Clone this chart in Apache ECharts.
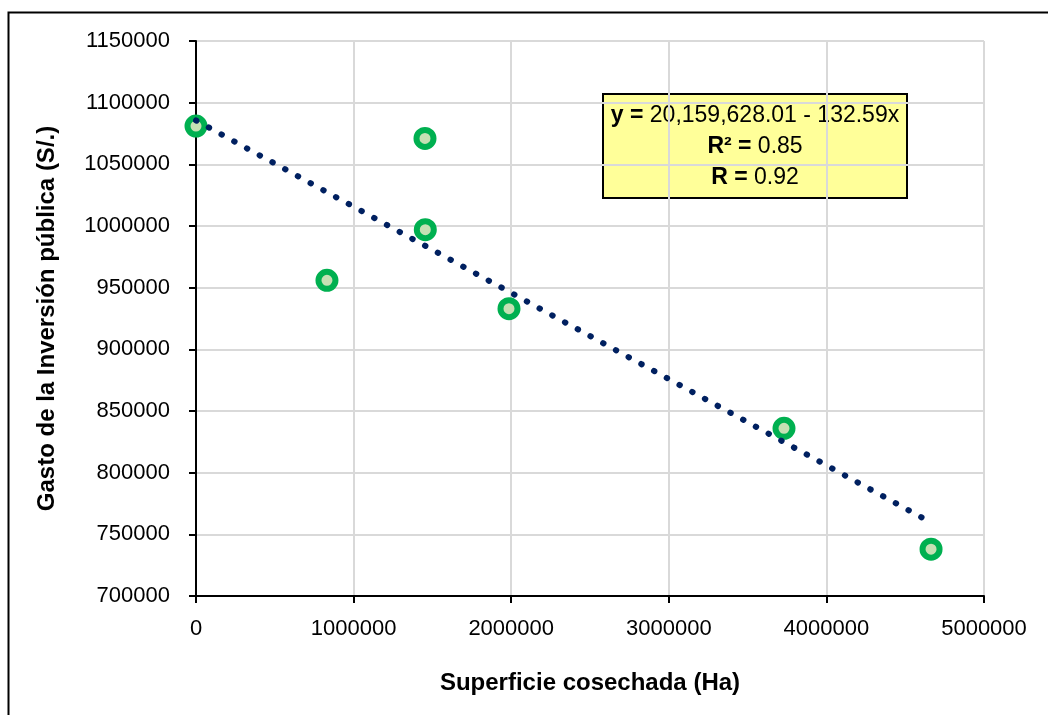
<!DOCTYPE html>
<html>
<head>
<meta charset="utf-8">
<script src="https://cdn.jsdelivr.net/npm/echarts@6/dist/echarts.min.js"></script>
<style>
  html, body { margin: 0; padding: 0; background: #fff; }
  #main { width: 1048px; height: 715px; }
</style>
</head>
<body>
<div id="main"></div>
<script>
// datos
var superficie = [0, 831000, 1453000, 1455000, 1986000, 3731000, 4664000];
var gasto = [1081000, 956000, 1071000, 997000, 933000, 836000, 738000];
var xTicks = [0, 5000000, 1000000];
var yTicks = [700000, 1150000, 50000];
var ecuacion = ['y = ', '20,159,628.01 - 132.59x'];
var r2 = ['R² = ', '0.85'];
var rr = ['R = ', '0.92'];

var fontN = '"Liberation Sans", Arial, sans-serif';

// recta de minimos cuadrados (como la linea de tendencia de Excel)
function tendencia(xs, ys) {
    var n = xs.length, mx = 0, my = 0;
    for (var i = 0; i < n; i++) { mx += xs[i]; my += ys[i]; }
    mx /= n; my /= n;
    var sxy = 0, sxx = 0;
    for (var j = 0; j < n; j++) {
        sxy += (xs[j] - mx) * (ys[j] - my);
        sxx += (xs[j] - mx) * (xs[j] - mx);
    }
    var b = sxy / sxx, a = my - b * mx;
    var x0 = Math.min.apply(null, xs), x1 = Math.max.apply(null, xs);
    return [[x0, a + b * x0], [x1, a + b * x1]];
}

var myChart = echarts.init(document.getElementById('main'));

var puntos = superficie.map(function (v, i) { return [v, gasto[i]]; });
var sinComas = function (v) { return String(v); };

myChart.setOption({
    animation: false,
    grid: { left: 196, right: 64, top: 41, bottom: 119 },
    xAxis: {
        type: 'value',
        min: xTicks[0], max: xTicks[1], interval: xTicks[2],
        name: 'Superficie cosechada (Ha)',
        nameLocation: 'middle',
        nameGap: 75,
        nameTextStyle: { fontFamily: fontN, fontWeight: 'bold', fontSize: 24, color: '#000' },
        axisLine: { lineStyle: { color: '#000', width: 2 } },
        axisTick: { show: true, length: 7, lineStyle: { color: '#000', width: 2 } },
        axisLabel: { margin: 22, fontFamily: fontN, fontSize: 22, color: '#000', formatter: sinComas },
        splitLine: { show: true, lineStyle: { color: '#d9d9d9', width: 2 } }
    },
    yAxis: {
        type: 'value',
        min: yTicks[0], max: yTicks[1], interval: yTicks[2],
        name: 'Gasto de la Inversión pública (S/.)',
        nameLocation: 'middle',
        nameGap: 137,
        nameTextStyle: { fontFamily: fontN, fontWeight: 'bold', fontSize: 24, color: '#000' },
        axisLine: { show: true, lineStyle: { color: '#000', width: 2 } },
        axisTick: { show: true, length: 7, lineStyle: { color: '#000', width: 2 } },
        axisLabel: { margin: 26, fontFamily: fontN, fontSize: 22, color: '#000', formatter: sinComas },
        splitLine: { show: true, lineStyle: { color: '#d9d9d9', width: 2 } }
    },
    series: [
        {
            type: 'scatter',
            data: puntos,
            symbol: 'circle',
            symbolSize: 17,
            itemStyle: { color: '#c6e0b4', borderColor: '#00b050', borderWidth: 6, opacity: 1 },
            z: 2
        },
        {
            type: 'line',
            data: tendencia(superficie, gasto),
            showSymbol: false,
            symbol: 'none',
            lineStyle: { color: '#002060', width: 6, type: [0.5, 14], cap: 'round' },
            z: 3
        }
    ],
    graphic: [
        {
            type: 'rect',
            left: 6, top: 10,
            shape: { width: 1100, height: 800 },
            style: { fill: 'none', stroke: '#000', lineWidth: 2 },
            silent: true
        },
        {
            type: 'group',
            left: 602, top: 93,
            children: [
                {
                    type: 'rect',
                    shape: { x: 0, y: 0, width: 304, height: 104 },
                    style: { fill: '#ffff99', stroke: '#000', lineWidth: 2 }
                },
                {
                    type: 'text',
                    x: 152, y: 53,
                    style: {
                        text: '{b|' + ecuacion[0] + '}{n|' + ecuacion[1] + '}\n' +
                              '{b|' + r2[0] + '}{n|' + r2[1] + '}\n' +
                              '{b|' + rr[0] + '}{n|' + rr[1] + '}',
                        align: 'center',
                        verticalAlign: 'middle',
                        fill: '#000',
                        rich: {
                            b: { fontFamily: fontN, fontWeight: 'bold', fontSize: 23, lineHeight: 31, fill: '#000' },
                            n: { fontFamily: fontN, fontSize: 23, lineHeight: 31, fill: '#000' }
                        }
                    }
                }
            ]
        }
    ]
});
</script>
</body>
</html>
